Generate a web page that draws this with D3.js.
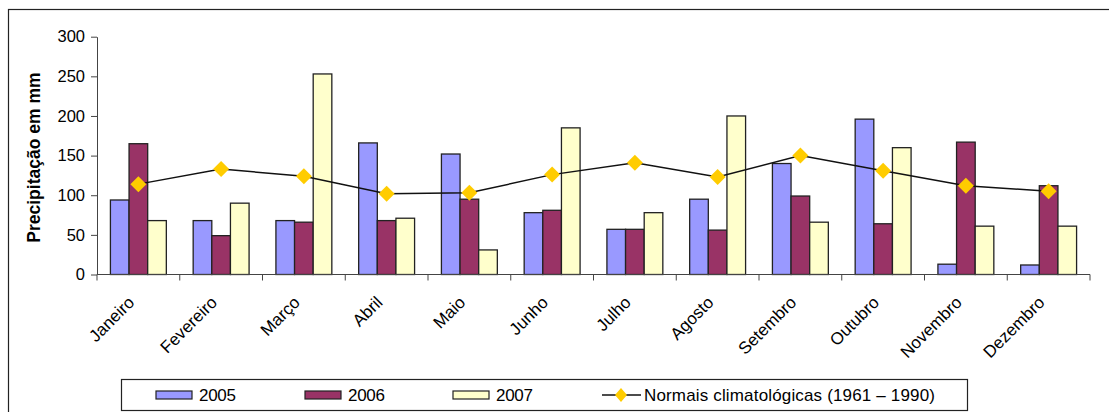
<!DOCTYPE html>
<html>
<head>
<meta charset="utf-8">
<script src="https://cdn.jsdelivr.net/npm/d3@7"></script>
<style>
    body { margin: 0; background: #fff; }
    svg { display: block; font-family: Arial, "Liberation Sans", sans-serif; }
</style>
</head>
<body>
<div id="chart-area"></div>
<script>

// Monthly precipitation (mm)
const months = ["Janeiro", "Fevereiro", "Março", "Abril", "Maio", "Junho",
    "Julho", "Agosto", "Setembro", "Outubro", "Novembro", "Dezembro"];
const seriesNames = ["2005", "2006", "2007"];
const values2005 = [94, 68, 68, 166, 152, 78, 57, 95, 140, 196, 13, 12];
const values2006 = [165, 49, 66, 68, 95, 81, 57, 56, 99, 64, 167, 112];
const values2007 = [68, 90, 253, 71, 31, 185, 78, 200, 66, 160, 61, 61];
const normals = [114, 133, 124, 102, 103, 126, 141, 123, 150, 131, 112, 105];
const yTicks = [0, 50, 100, 150, 200, 250, 300];
const lineLabel = "Normais climatológicas (1961 – 1990)";

class PrecipChart {

    constructor(parentElement) {
        this.parentElement = parentElement;
        this.initVis();
    }

    initVis() {
        let vis = this;

        vis.width = 1109;
        vis.height = 412;
        vis.colors = {"2005": "#9999FF", "2006": "#993366", "2007": "#FFFFCC"};

        vis.svg = d3.select(`#${vis.parentElement}`)
            .append("svg")
            .attr("width", vis.width)
            .attr("height", vis.height);

        // outer chart frame (runs off the right and bottom edges)
        vis.svg.append("rect")
            .attr("x", 8.5)
            .attr("y", 9.5)
            .attr("width", 1200)
            .attr("height", 500)
            .attr("fill", "none")
            .attr("stroke", "#222")
            .attr("stroke-width", 1.2);

        // plot area
        vis.plot = {left: 97, right: 1090, top: 36.7, bottom: 274.5};

        vis.wrangleData();
    }

    wrangleData() {
        let vis = this;

        let byYear = {"2005": values2005, "2006": values2006, "2007": values2007};
        vis.barData = months.map((m, i) => ({
            month: m,
            bars: seriesNames.map(s => ({series: s, value: byYear[s][i]}))
        }));
        vis.lineData = months.map((m, i) => ({month: m, value: normals[i]}));

        vis.updateVis();
    }

    updateVis() {
        let vis = this;
        let p = vis.plot;

        vis.x = d3.scaleBand()
            .domain(months)
            .range([p.left, p.right])
            .padding(0);

        vis.xInner = d3.scaleBand()
            .domain(seriesNames)
            .range([0, vis.x.bandwidth()])
            .paddingInner(0)
            .paddingOuter(0.72);

        vis.y = d3.scaleLinear()
            .domain([0, 300])
            .range([p.bottom, p.top]);

        // bars
        let groups = vis.svg.selectAll(".month")
            .data(vis.barData)
            .enter()
            .append("g")
            .attr("class", "month")
            .attr("transform", d => `translate(${vis.x(d.month)},0)`);

        groups.selectAll("rect")
            .data(d => d.bars)
            .enter()
            .append("rect")
            .attr("x", d => vis.xInner(d.series))
            .attr("y", d => vis.y(d.value))
            .attr("width", vis.xInner.bandwidth())
            .attr("height", d => vis.y(0) - vis.y(d.value))
            .attr("fill", d => vis.colors[d.series])
            .attr("stroke", "#222")
            .attr("stroke-width", 1.3);

        // y axis
        let yAxis = vis.svg.append("g")
            .attr("class", "y-axis")
            .attr("transform", `translate(${p.left},0)`)
            .call(d3.axisLeft(vis.y).tickValues(yTicks).tickSize(6).tickPadding(6).tickSizeOuter(0));
        yAxis.selectAll("path, line").attr("stroke", "#444");
        yAxis.selectAll("text")
            .style("font-size", "16.5px")
            .style("font-family", "Arial, 'Liberation Sans', sans-serif")
            .attr("fill", "#000");

        // x axis: ticks at the category boundaries
        let xAxis = vis.svg.append("g")
            .attr("class", "x-axis")
            .attr("transform", `translate(0,${p.bottom})`);
        xAxis.append("line")
            .attr("x1", p.left).attr("x2", p.right)
            .attr("stroke", "#444");
        xAxis.selectAll(".tick")
            .data(months.concat(["end"]))
            .enter()
            .append("line")
            .attr("class", "tick")
            .attr("x1", (d, i) => i < months.length ? vis.x(d) : p.right)
            .attr("x2", (d, i) => i < months.length ? vis.x(d) : p.right)
            .attr("y1", 0)
            .attr("y2", 6)
            .attr("stroke", "#444");

        // rotated month labels
        vis.svg.selectAll(".month-label")
            .data(months)
            .enter()
            .append("text")
            .attr("class", "month-label")
            .attr("transform", d => {
                let cx = vis.x(d) + vis.x.bandwidth() / 2 - 3;
                return `translate(${cx},${p.bottom + 29}) rotate(-45)`;
            })
            .attr("text-anchor", "end")
            .style("font-size", "17px")
            .text(d => d);

        // y title
        vis.svg.append("text")
            .attr("transform", `translate(40,${(p.top + p.bottom) / 2 + 2}) rotate(-90)`)
            .attr("text-anchor", "middle")
            .style("font-size", "17.5px")
            .style("font-weight", "bold")
            .text("Precipitação em mm");

        // climatological normals line
        let cx = d => vis.x(d.month) + vis.x.bandwidth() / 2;
        vis.svg.append("path")
            .datum(vis.lineData)
            .attr("fill", "none")
            .attr("stroke", "#111")
            .attr("stroke-width", 1.5)
            .attr("d", d3.line().x(cx).y(d => vis.y(d.value)));

        vis.svg.selectAll(".marker")
            .data(vis.lineData)
            .enter()
            .append("path")
            .attr("class", "marker")
            .attr("transform", d => `translate(${cx(d)},${vis.y(d.value)})`)
            .attr("d", "M0,-8L8,0L0,8L-8,0Z")
            .attr("fill", "#FFCC00");

        vis.drawLegend();
    }

    drawLegend() {
        let vis = this;

        let legend = vis.svg.append("g").attr("class", "legend");
        legend.append("rect")
            .attr("x", 121.5).attr("y", 379.5)
            .attr("width", 846).attr("height", 31)
            .attr("fill", "#fff")
            .attr("stroke", "#222")
            .attr("stroke-width", 1.2);

        let swatchX = [156, 305, 453];
        seriesNames.forEach((s, i) => {
            legend.append("rect")
                .attr("x", swatchX[i]).attr("y", 391)
                .attr("width", 36).attr("height", 8)
                .attr("fill", vis.colors[s])
                .attr("stroke", "#222")
                .attr("stroke-width", 1.2);
            legend.append("text")
                .attr("x", swatchX[i] + 43).attr("y", 401)
                .style("font-size", "17px")
                .attr("textLength", 37)
                .text(s);
        });

        legend.append("line")
            .attr("x1", 602).attr("x2", 641)
            .attr("y1", 395).attr("y2", 395)
            .attr("stroke", "#111").attr("stroke-width", 1.5);
        legend.append("path")
            .attr("transform", "translate(621,395)")
            .attr("d", "M0,-7L6,0L0,7L-6,0Z")
            .attr("fill", "#FFCC00");
        legend.append("text")
            .attr("x", 644).attr("y", 401)
            .style("font-size", "17px")
            .attr("textLength", 291)
            .text(lineLabel);
    }
}

new PrecipChart("chart-area");
</script>
</body>
</html>
